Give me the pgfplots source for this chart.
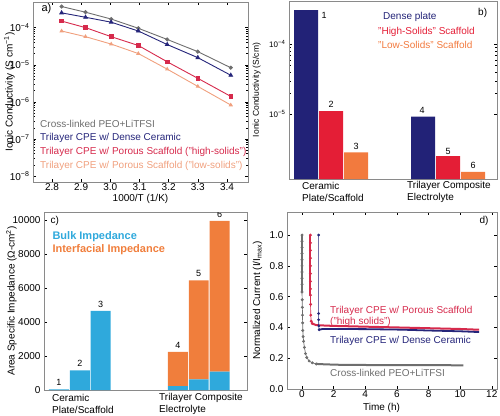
\documentclass[border=0pt]{standalone}
\usepackage{pgfplots}
\pgfplotsset{compat=1.18}
\usepackage{fontspec}
\setmainfont{Liberation Sans}
\definecolor{cgray}{HTML}{6E6E6E}
\definecolor{cnavy}{HTML}{25257A}
\definecolor{cred}{HTML}{D62A4C}
\definecolor{corange}{HTML}{F0A07E}
\definecolor{bnavy}{HTML}{222277}
\definecolor{bred}{HTML}{E41E36}
\definecolor{borange}{HTML}{F27A3E}
\definecolor{ccyan}{HTML}{2FA9DC}
\definecolor{cor}{HTML}{F07E3C}
\definecolor{axgray}{HTML}{8A8A8A}
\pgfplotsset{
  every axis/.append style={scale only axis, anchor=south west,
    axis line style={axgray, line width=0.6pt},
    /pgf/number format/assume math mode=true,
    tick style={black, line width=0.4pt}, tick align=inside,
    major tick length=3pt, minor tick length=1.6pt,
    xticklabel style={inner sep=1.5pt},
    font=\fontsize{10}{12}\selectfont},
}
\begin{document}
\begin{tikzpicture}
\useasboundingbox (0,0) rectangle (500pt,-415pt);
% ---------------- panel a
\begin{axis}[at={(33pt,-182pt)}, width=215pt, height=180pt,
  xmin=2.735, xmax=3.472, ymode=log, ymin=6.9e-9, ymax=4.9e-4,
  xtick={2.8,2.9,3.0,3.1,3.2,3.3,3.4}, xticklabels={2.8,2.9,3.0,3.1,3.2,3.3,3.4},
  ytick={1e-8,1e-7,1e-6,1e-5,1e-4},
  yticklabels={10\textsuperscript{−8},10\textsuperscript{−7},10\textsuperscript{−6},10\textsuperscript{−5},10\textsuperscript{−4}},
  xlabel={1000/T (1/K)}, ylabel={Ionic Conductivity (S cm\textsuperscript{−1})},
  xlabel style={at={(axis description cs:0.5,-0.095)}, anchor=center},
  ylabel style={at={(axis description cs:-0.11,0.5)}, anchor=center},
  ]
\addplot[cgray, line width=0.9pt, mark=*, mark size=1.6pt] coordinates {
 (2.833,3.7e-4) (2.915,2.6e-4) (3.003,1.7e-4) (3.096,9.6e-5) (3.195,4.8e-5) (3.300,2.25e-5) (3.413,8.3e-6)};
\addplot[cnavy, line width=0.9pt, mark=triangle*, mark size=2pt] coordinates {
 (2.833,2.5e-4) (2.915,1.9e-4) (3.003,1.4e-4) (3.096,8.1e-5) (3.195,3.5e-5) (3.300,1.55e-5) (3.413,5.2e-6)};
\addplot[cred, line width=0.9pt, mark=square*, mark size=1.8pt] coordinates {
 (2.833,1.5e-4) (2.915,1.0e-4) (3.003,5.7e-5) (3.096,3.3e-5) (3.195,1.2e-5) (3.300,4.3e-6) (3.413,1.4e-6)};
\addplot[corange, line width=0.9pt, mark=triangle*, mark size=1.6pt] coordinates {
 (2.833,8.1e-5) (2.915,5.7e-5) (3.003,3.6e-5) (3.096,2.0e-5) (3.195,7.6e-6) (3.300,2.6e-6) (3.413,8.2e-7)};
\end{axis}
\node[anchor=west, font=\fontsize{11}{12}\selectfont] at (38pt,-9pt) {a)};
\begin{scope}[every node/.style={anchor=west, font=\fontsize{10}{12}\selectfont, inner sep=0pt}]
\node[text=cgray] at (40pt,-124pt) {Cross-linked PEO+LiTFSI};
\node[text=cnavy] at (40pt,-138pt) {Trilayer CPE w/ Dense Ceramic};
\node[text=cred] at (40pt,-152pt) {Trilayer CPE w/ Porous Scaffold ("high-solids")};
\node[text=corange] at (40pt,-166pt) {Trilayer CPE w/ Porous Scaffold ("low-solids")};
\end{scope}
% ---------------- panel b
\begin{axis}[at={(289pt,-179pt)}, width=208pt, height=178pt,
  ymode=log, log origin=infty, ymin=1.19e-6, ymax=4.16e-4,
  xmin=-0.68, xmax=7.64, xtick=\empty,
  ytick={1e-5,1e-4}, yticklabels={10\textsuperscript{−5},10\textsuperscript{−4}},
  yticklabel style={font=\fontsize{8}{9}\selectfont},
  ylabel={Ionic Conductivity (S/cm)},
  ylabel style={at={(axis description cs:-0.155,0.5)}, anchor=center, font=\fontsize{8.5}{10}\selectfont},
  ybar, bar shift=0pt, bar width=0.96,
  ]
\addplot[fill=bnavy, draw=none] coordinates {(0,3.09e-4) (4.68,9.24e-6)};
\addplot[fill=bred, draw=none] coordinates {(1,1.11e-5) (5.68,2.53e-6)};
\addplot[fill=borange, draw=none] coordinates {(2,2.87e-6) (6.68,1.51e-6)};
\end{axis}
\begin{scope}[every node/.style={font=\fontsize{9}{11}\selectfont, inner sep=0pt}]
\node at (324pt,-15pt) {1};
\node at (331pt,-104pt) {2};
\node at (356pt,-146pt) {3};
\node at (422pt,-110pt) {4};
\node at (448pt,-151pt) {5};
\node at (473pt,-165pt) {6};
\node[anchor=west, font=\fontsize{10}{12}\selectfont] at (478pt,-13pt) {b)};
\node[anchor=west, text=bnavy, font=\fontsize{10}{12}\selectfont] at (383pt,-17pt) {Dense plate};
\node[anchor=west, text=bred, font=\fontsize{10}{12}\selectfont] at (378pt,-32pt) {"High-Solids" Scaffold};
\node[anchor=west, text=borange, font=\fontsize{10}{12}\selectfont] at (378pt,-45pt) {"Low-Solids" Scaffold};
\node[anchor=west, font=\fontsize{10}{12}\selectfont] at (302pt,-186pt) {Ceramic};
\node[anchor=west, font=\fontsize{10}{12}\selectfont] at (302pt,-198pt) {Plate/Scaffold};
\node[anchor=west, font=\fontsize{10}{12}\selectfont] at (407pt,-186pt) {Trilayer Composite};
\node[anchor=west, font=\fontsize{10}{12}\selectfont] at (407pt,-198pt) {Electrolyte};
\end{scope}
% ---------------- panel c
\begin{axis}[at={(44pt,-390pt)}, width=203pt, height=178pt,
  ymin=0, ymax=10470, xmin=-0.72, xmax=9.04, xtick=\empty,
  ytick={0,2000,4000,6000,8000,10000}, scaled y ticks=false,
  yticklabels={0,2000,4000,6000,8000,10000},
  ylabel={Area Specific Impedance (Ω-cm\textsuperscript{2})},
  ylabel style={at={(axis description cs:-0.16,0.5)}, anchor=center},
  ybar stacked, bar width=0.96,
  ]
\addplot[fill=ccyan, draw=none] coordinates {(0,30) (1,1150) (2,4650) (5.72,230) (6.72,630) (7.72,1080)};
\addplot[fill=cor, draw=none] coordinates {(0,0) (1,0) (2,0) (5.72,2020) (6.72,5820) (7.72,8870)};
\node[above, font=\fontsize{9}{10}\selectfont] at (axis cs:0,30) {1};
\node[above, font=\fontsize{9}{10}\selectfont] at (axis cs:1,1150) {2};
\node[above, font=\fontsize{9}{10}\selectfont] at (axis cs:2,4650) {3};
\node[above, font=\fontsize{9}{10}\selectfont] at (axis cs:5.72,2250) {4};
\node[above, font=\fontsize{9}{10}\selectfont] at (axis cs:6.72,6450) {5};
\node[above, font=\fontsize{9}{10}\selectfont] at (axis cs:7.72,9950) {6};
\end{axis}
\node[anchor=west, font=\fontsize{10}{12}\selectfont] at (47pt,-221pt) {c)};
\node[anchor=west, text=ccyan, font=\bfseries\fontsize{11}{12}\selectfont] at (49pt,-237pt) {Bulk Impedance};
\node[anchor=west, text=cor, font=\bfseries\fontsize{11}{12}\selectfont] at (49pt,-250pt) {Interfacial Impedance};
\begin{scope}[every node/.style={anchor=west, font=\fontsize{10}{12}\selectfont, inner sep=0pt}]
\node at (52pt,-398pt) {Ceramic};
\node at (52pt,-410pt) {Plate/Scaffold};
\node at (159pt,-398pt) {Trilayer Composite};
\node at (159pt,-410pt) {Electrolyte};
\end{scope}
% ---------------- panel d
\begin{axis}[at={(287pt,-389pt)}, width=210pt, height=177pt,
  xmin=-0.95, xmax=12.33, ymin=0, ymax=1.15,
  xtick={0,2,4,6,8,10,12}, ytick={0,0.2,0.4,0.6,0.8,1.0},
  yticklabel style={/pgf/number format/.cd, fixed, fixed zerofill, precision=1},
  xlabel={Time (h)}, ylabel={Normalized Current (I/I\textsubscript{max})},
  xlabel style={at={(axis description cs:0.45,-0.105)}, anchor=center},
  ylabel style={at={(axis description cs:-0.14,0.5)}, anchor=center},
  ]
\addplot[cgray, line width=2pt] coordinates {
 (0,1.0) (0,0.63)};
\addplot[cgray, line width=0.7pt, mark=*, mark size=1.1pt] coordinates {
 (0,1.0) (0,0.96) (0,0.92) (0,0.88) (0,0.84) (0,0.80) (0,0.76) (0,0.72) (0,0.68) (0,0.63) (0.01,0.58) (0.02,0.53) (0.03,0.48) (0.04,0.43) (0.05,0.38) (0.07,0.34) (0.1,0.31) (0.15,0.27) (0.22,0.23) (0.3,0.205) (0.45,0.182) (0.65,0.170) (0.9,0.163)};
\addplot[cgray, line width=2pt] coordinates {
 (0.9,0.163) (1.5,0.160) (2.5,0.157) (4,0.156) (6,0.155) (8,0.155) (10.2,0.154)};
\addplot[cred, line width=2pt] coordinates {
 (0.53,1.0) (0.53,0.61)};
\addplot[cred, line width=0.7pt, mark=*, mark size=1.1pt] coordinates {
 (0.53,1.0) (0.53,0.95) (0.53,0.90) (0.53,0.85) (0.53,0.80) (0.53,0.75) (0.53,0.70) (0.53,0.65) (0.53,0.61) (0.54,0.55) (0.55,0.48) (0.58,0.44) (0.65,0.425)};
\addplot[cred, line width=2pt] coordinates {
 (0.65,0.425) (0.9,0.415) (1.5,0.412) (2,0.410) (4,0.405) (6,0.400) (8,0.395) (10,0.390) (11.2,0.385)};
\addplot[cnavy, line width=0.6pt, mark=*, mark size=1.1pt] coordinates {
 (1.05,1.0) (1.05,0.49) (1.05,0.45) (1.06,0.41) (1.08,0.385)};
\addplot[cnavy, line width=1.8pt] coordinates {
 (1.08,0.385) (1.3,0.39) (2,0.39) (4,0.389) (6,0.386) (6.8,0.384) (8,0.38) (10,0.375) (11.2,0.37)};
\end{axis}
\node[anchor=west, font=\fontsize{10}{12}\selectfont] at (476pt,-221pt) {d)};
\begin{scope}[every node/.style={anchor=west, font=\fontsize{10}{12}\selectfont, inner sep=0pt}]
\node[text=cred] at (330pt,-311pt) {Trilayer CPE w/ Porous Scaffold};
\node[text=cred] at (330pt,-322pt) {("high solids")};
\node[text=cnavy] at (330pt,-341pt) {Trilayer CPE w/ Dense Ceramic};
\node[text=cgray] at (330pt,-373pt) {Cross-linked PEO+LiTFSI};
\end{scope}
\end{tikzpicture}
\end{document}
